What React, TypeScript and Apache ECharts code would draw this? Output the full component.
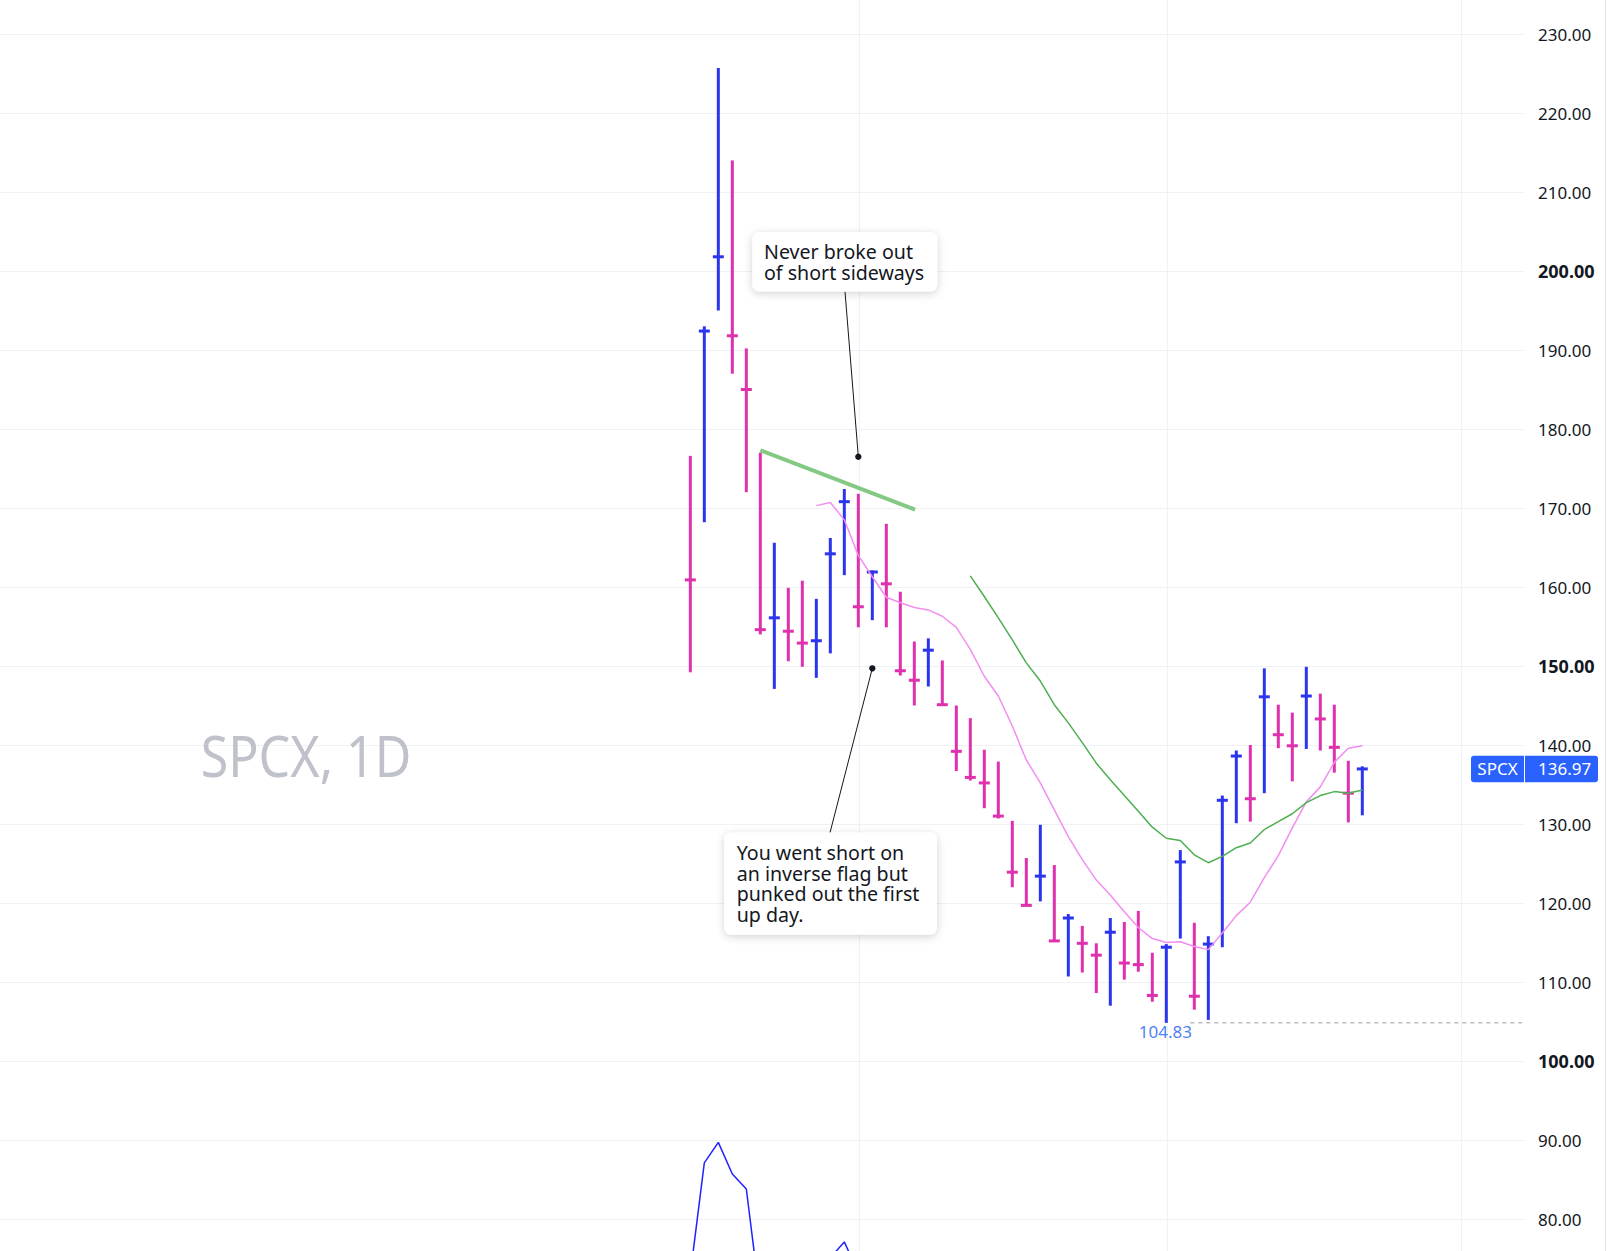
import React, { useEffect, useRef } from "react";
import * as echarts from "echarts";

// ---------- data ----------
const symbolName = "SPCX";
const timeframe = "1D";

const highs = [
  176.6, 193.0, 225.7, 214.0, 190.2, 177.0, 165.6, 159.9, 160.8, 158.5,
  166.2, 172.4, 171.8, 162.1, 168.0, 159.4, 153.1, 153.5, 150.7, 145.0,
  143.4, 139.4, 137.9, 130.4, 125.7, 129.9, 124.8, 118.6, 117.1, 114.9,
  118.1, 117.6, 119.0, 113.7, 114.8, 126.7, 117.5, 115.8, 133.6, 139.3,
  140.0, 149.7, 145.1, 144.1, 149.9, 146.5, 145.1, 138.0, 137.3,
];
const lows = [
  149.2, 168.2, 195.0, 187.0, 172.0, 154.0, 147.1, 150.6, 149.9, 148.5,
  151.6, 161.5, 154.9, 155.8, 154.9, 148.8, 145.0, 147.4, 145.0, 136.7,
  135.5, 132.0, 130.7, 122.0, 119.6, 120.2, 115.1, 110.7, 111.2, 108.6,
  107.0, 110.3, 111.3, 107.5, 104.83, 115.5, 106.5, 105.2, 114.4, 130.1,
  130.3, 133.9, 139.6, 135.4, 139.5, 139.3, 136.5, 130.2, 131.1,
];
const closes = [
  160.9, 192.4, 201.8, 191.8, 185.0, 154.6, 156.1, 154.4, 152.9, 153.2,
  164.2, 170.8, 157.5, 161.9, 160.4, 149.4, 148.2, 152.0, 145.1, 139.2,
  135.9, 135.2, 131.0, 123.9, 119.7, 123.4, 115.2, 118.1, 114.9, 113.4,
  116.3, 112.4, 112.2, 108.3, 114.4, 125.2, 108.2, 114.8, 133.0, 138.6,
  133.2, 146.1, 141.3, 139.9, 146.2, 143.3, 139.7, 133.9, 136.97,
];

const fastMaStart = 9;
const fastMa = [
  170.3, 170.7, 168.5, 164.0, 161.3, 158.7, 158.0, 157.4, 157.1, 156.3,
  154.9, 152.1, 148.7, 146.2, 142.4, 138.1, 135.2, 131.8, 128.4, 125.5,
  122.9, 121.0, 118.9, 116.9, 115.5, 115.0, 115.1, 114.5, 114.1, 116.2,
  118.4, 120.1, 123.2, 126.0, 129.5, 132.8, 134.7, 137.8, 139.6, 139.9,
];

const slowMaStart = 20;
const slowMa = [
  161.4, 158.8, 156.1, 153.3, 150.4, 148.1, 145.1, 142.8, 140.3, 137.7,
  135.6, 133.6, 131.6, 129.6, 128.2, 127.9, 126.1, 125.1, 125.9, 127.0,
  127.6, 129.3, 130.3, 131.3, 132.7, 133.6, 134.1, 133.9, 134.3,
];

const lowerPaneStart = 0;
const lowerPane = [73.0, 87.1, 89.7, 85.7, 83.8, 69.6, 66.0, 64.0, 63.0, 65.0, 75.1, 77.1, 73.2];

const trendLine = [
  [5, 177.3],
  [16.05, 169.8],
];

const monthStarts = [12.08, 34.08, 55.08];
const boldLevels = [100, 150, 200];
const visibleLabelRange = [80, 230];

const callouts = [
  { anchor: [12, 176.5], lines: ["Never broke out", "of short sideways"] },
  {
    anchor: [13, 149.7],
    lines: ["You went short on", "an inverse flag but", "punked out the first", "up day."],
  },
];

// ---------- styling / layout ----------
const FONT = "'Noto Sans', 'DejaVu Sans', sans-serif";
const BLUE = "#2b35ee";
const PINK = "#df30ad";
const GRID = "#f0f1f4";
const TEXT = "#131722";
const Y_OFFSET = 44.7; // chart div is shifted up so that the 70..240 range maps onto the page
const CHART_W = 1620;
const CHART_H = 1343;

const calloutBoxes = [
  { x: 752.3, y: 232.3, w: 185, h: 59.5, textX: 764, firstLine: 252.2, attach: [845, 292] },
  { x: 724.3, y: 832.7, w: 212.7, h: 102.3, textX: 736.7, firstLine: 852.8, attach: [830, 833] },
];

export default function App() {
  const ref = useRef<HTMLDivElement>(null);

  useEffect(() => {
    const el = ref.current;
    if (!el) return;
    const chart = echarts.init(el, null, { renderer: "svg" });

    const barData = closes.map((c, i) => [
      i,
      highs[i],
      lows[i],
      c,
      i > 0 && c > closes[i - 1] ? 1 : 0,
    ]);
    const fastData = fastMa.map((v, k) => [fastMaStart + k, v]);
    const slowData = slowMa.map((v, k) => [slowMaStart + k, v]);
    const lowerData = lowerPane.map((v, k) => [lowerPaneStart + k, v]);

    const option: any = {
      animation: false,
      backgroundColor: "#ffffff",
      grid: {
        left: 0,
        right: 96,
        top: 0,
        bottom: 0,
        containLabel: false,
        outerBoundsMode: "none",
      },
      xAxis: {
        type: "value",
        min: -49.31,
        max: 59.55,
        axisLine: { show: false },
        axisTick: { show: false },
        axisLabel: { show: false },
        splitLine: { show: false },
      },
      yAxis: {
        type: "value",
        position: "right",
        min: 70,
        max: 240,
        interval: 10,
        axisLine: { show: false },
        axisTick: { show: false },
        splitLine: { show: true, lineStyle: { color: GRID, width: 1 } },
        axisLabel: {
          margin: 14,
          color: TEXT,
          fontFamily: FONT,
          fontSize: 17,
          formatter: (v: number) => {
            if (v < visibleLabelRange[0] - 0.5 || v > visibleLabelRange[1] + 0.5) return "";
            const s = v.toFixed(2);
            return boldLevels.indexOf(Math.round(v)) >= 0 ? `{b|${s}}` : s;
          },
          rich: {
            b: { fontFamily: FONT, fontSize: 18, fontWeight: "bold", color: TEXT },
          },
        },
      },
      series: [
        {
          type: "custom",
          name: "bars",
          z: 2,
          data: barData,
          encode: { x: 0, y: [1, 2] },
          renderItem: (params: any, api: any) => {
            const i = api.value(0);
            const pH = api.coord([i, api.value(1)]);
            const pL = api.coord([i, api.value(2)]);
            const pC = api.coord([i, api.value(3)]);
            const color = api.value(4) ? BLUE : PINK;
            return {
              type: "group",
              children: [
                {
                  type: "line",
                  shape: { x1: pH[0], y1: pH[1], x2: pL[0], y2: pL[1] },
                  style: { stroke: color, lineWidth: 3 },
                },
                {
                  type: "line",
                  shape: { x1: pC[0] - 5.5, y1: pC[1], x2: pC[0] + 5.5, y2: pC[1] },
                  style: { stroke: color, lineWidth: 3 },
                },
              ],
            };
          },
        },
        {
          type: "line",
          name: "fast",
          z: 3,
          data: fastData,
          showSymbol: false,
          symbol: "none",
          lineStyle: { color: "#f28ef0", width: 1.5 },
        },
        {
          type: "line",
          name: "slow",
          z: 3,
          data: slowData,
          showSymbol: false,
          symbol: "none",
          lineStyle: { color: "#4caf50", width: 1.5 },
        },
        {
          type: "line",
          name: "trend",
          z: 4,
          data: trendLine,
          showSymbol: false,
          symbol: "none",
          lineStyle: { color: "#7cc67c", width: 4, opacity: 0.95 },
        },
        {
          type: "line",
          name: "lower",
          z: 3,
          data: lowerData,
          showSymbol: false,
          symbol: "none",
          lineStyle: { color: "#1e22ff", width: 1.5 },
        },
      ],
    };

    chart.setOption(option);

    const toPx = (p: number[]) => chart.convertToPixel({ gridIndex: 0 }, p) as number[];
    const py = (y: number) => y + Y_OFFSET;

    const els: any[] = [];

    // vertical grid lines (period starts)
    monthStarts.forEach((m) => {
      const p = toPx([m, 150]);
      els.push({
        type: "line",
        z: 0,
        silent: true,
        shape: { x1: p[0], y1: 0, x2: p[0], y2: CHART_H },
        style: { stroke: GRID, lineWidth: 1 },
      });
    });

    // price-scale border
    els.push({
      type: "line",
      z: 0,
      silent: true,
      shape: { x1: 1605.5, y1: 0, x2: 1605.5, y2: CHART_H },
      style: { stroke: "#e0e3eb", lineWidth: 1 },
    });

    // watermark
    els.push({
      type: "text",
      z: 0,
      silent: true,
      x: 200.7,
      y: py(755.5),
      scaleX: 0.88,
      style: {
        text: `${symbolName}, ${timeframe}`,
        fill: "#bfc2cb",
        fontSize: 57,
        fontFamily: FONT,
        verticalAlign: "middle",
        align: "left",
      },
    });

    // callouts
    callouts.forEach((c, k) => {
      const b = calloutBoxes[k];
      const a = toPx(c.anchor);
      els.push({
        type: "line",
        z: 50,
        shape: { x1: a[0], y1: a[1], x2: b.attach[0], y2: py(b.attach[1]) },
        style: { stroke: TEXT, lineWidth: 1 },
      });
      els.push({
        type: "circle",
        z: 50,
        shape: { cx: a[0], cy: a[1], r: 3.2 },
        style: { fill: TEXT },
      });
      els.push({
        type: "rect",
        z: 51,
        shape: { x: b.x, y: py(b.y), width: b.w, height: b.h, r: 7 },
        style: {
          fill: "#ffffff",
          shadowBlur: 8,
          shadowColor: "rgba(0,0,0,0.18)",
          shadowOffsetY: 2,
        },
      });
      c.lines.forEach((line, j) => {
        els.push({
          type: "text",
          z: 52,
          x: b.textX,
          y: py(b.firstLine + j * 20.7),
          style: {
            text: line,
            fill: TEXT,
            fontSize: 19.6,
            fontFamily: FONT,
            verticalAlign: "middle",
            align: "left",
          },
        });
      });
    });

    // lowest low marker
    let lowIdx = 0;
    lows.forEach((l, i) => {
      if (l < lows[lowIdx]) lowIdx = i;
    });
    const lp = toPx([lowIdx, lows[lowIdx]]);
    els.push({
      type: "line",
      z: 5,
      shape: { x1: lp[0] + 24, y1: lp[1], x2: 1522, y2: lp[1] },
      style: { stroke: "#9598a1", lineWidth: 1, lineDash: [4, 4] },
    });
    els.push({
      type: "text",
      z: 5,
      x: lp[0] - 1,
      y: lp[1] + 8.8,
      style: {
        text: lows[lowIdx].toFixed(2),
        fill: "#4f7ff5",
        fontSize: 17,
        fontFamily: FONT,
        align: "center",
        verticalAlign: "middle",
      },
    });

    // last price label
    const last = closes[closes.length - 1];
    const lastPx = toPx([closes.length - 1, last]);
    const ly = lastPx[1];
    els.push({
      type: "rect",
      z: 60,
      shape: { x: 1471, y: ly - 13.3, width: 53, height: 26.7, r: [3, 0, 0, 3] },
      style: { fill: "#2962ff" },
    });
    els.push({
      type: "rect",
      z: 60,
      shape: { x: 1525, y: ly - 13.3, width: 73, height: 26.7, r: [0, 3, 3, 0] },
      style: { fill: "#2962ff" },
    });
    els.push({
      type: "text",
      z: 61,
      x: 1497.5,
      y: ly,
      style: {
        text: symbolName,
        fill: "#ffffff",
        fontSize: 17,
        fontFamily: FONT,
        align: "center",
        verticalAlign: "middle",
      },
    });
    els.push({
      type: "text",
      z: 61,
      x: 1538,
      y: ly,
      style: {
        text: last.toFixed(2),
        fill: "#ffffff",
        fontSize: 17,
        fontFamily: FONT,
        align: "left",
        verticalAlign: "middle",
      },
    });

    chart.setOption({ graphic: { elements: els } });

    return () => {
      chart.dispose();
    };
  }, []);

  return (
    <div
      style={{
        position: "fixed",
        left: 0,
        top: 0,
        width: "100vw",
        height: "100vh",
        overflow: "hidden",
        background: "#ffffff",
      }}
    >
      <div
        ref={ref}
        style={{
          position: "absolute",
          left: 0,
          top: -Y_OFFSET,
          width: CHART_W,
          height: CHART_H,
        }}
      />
    </div>
  );
}
